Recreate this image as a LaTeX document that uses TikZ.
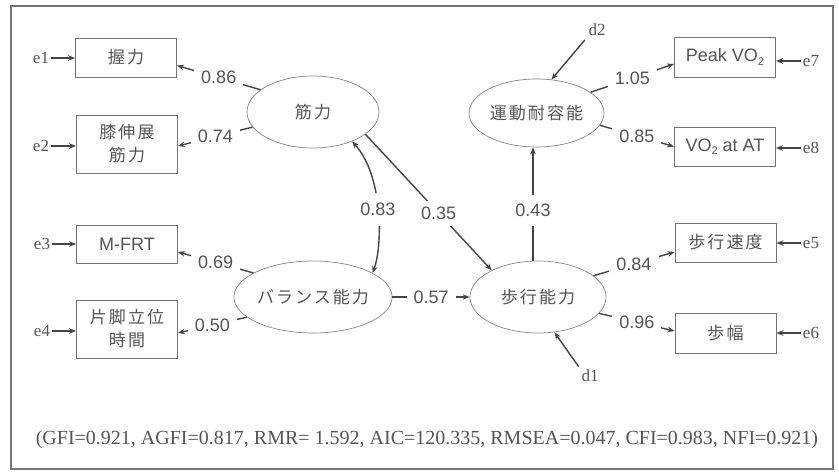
\documentclass[tikz,border=0pt]{standalone}
\usepackage{fontspec}
\setmainfont{Liberation Serif}
\setsansfont{Liberation Sans}
\newfontfamily\jp[LetterSpace=12]{Noto Sans CJK JP}
\usetikzlibrary{arrows.meta,shapes.geometric,calc}
\definecolor{ink}{HTML}{454545}
\definecolor{txt}{HTML}{555555}
\newcommand{\subtwo}{\raisebox{-0.35ex}{\fontsize{11}{11}\selectfont 2}}
\begin{document}
\begin{tikzpicture}[x=1pt,y=-1pt,
  obs/.style={draw=ink!75, line width=0.9pt, minimum width=101pt, text=txt,
    font=\jp\fontsize{17}{23}\selectfont, align=center, inner sep=0pt},
  obsl/.style={obs, font=\sffamily\fontsize{18}{22}\selectfont},
  lat/.style={ellipse, draw=ink!65, line width=0.7pt, minimum width=132pt,
    minimum height=72pt, inner sep=0pt, text=txt, font=\jp\fontsize{17}{21}\selectfont},
  err/.style={font=\rmfamily\fontsize{17}{17}\selectfont, text=txt, inner sep=1.5pt},
  coef/.style={font=\sffamily\fontsize{18}{18}\selectfont, text=txt, fill=white,
    inner xsep=7pt, inner ysep=3pt},
  arr/.style={draw=ink, line width=1.4pt, -{Stealth[length=7pt,width=5.5pt]}},
  darr/.style={draw=ink, line width=1.4pt, {Stealth[length=7pt,width=5.5pt]}-{Stealth[length=7pt,width=5.5pt]}},
  frame/.style={draw=ink!75, line width=1.5pt}
]
\useasboundingbox (0,0) rectangle (839,474);
\draw[frame] (11,6) rectangle (833,469);

% observed variables, left
\node[obs, minimum height=39pt] (b1) at (126,57.5) {握力};
\node[obs, minimum height=58pt] (b2) at (127,144) {膝伸展\\筋力};
\node[obsl, minimum height=38pt] (b3) at (127,244) {M-FRT};
\node[obs, minimum height=58pt] (b4) at (127,329) {片脚立位\\時間};
% observed variables, right
\node[obsl, minimum height=40pt] (b7) at (725,57) {Peak VO\subtwo};
\node[obsl, minimum height=39pt] (b8) at (725,146.5) {VO\subtwo\ at AT};
\node[obs, minimum height=39pt] (b5) at (725.5,242.5) {歩行速度};
\node[obs, minimum height=40pt] (b6) at (725.5,333) {歩幅};

% latent variables
\node[lat] (mk) at (313,112) {筋力};
\node[lat] (bl) at (313,297) {バランス能力};
\node[lat, minimum width=135pt, minimum height=68pt] (ue) at (536.5,113) {運動耐容能};
\node[lat, minimum width=136pt] (wk) at (538,297) {歩行能力};

% error terms
\node[err] (e1) at (41,58) {e1};
\node[err] (e2) at (41,146) {e2};
\node[err] (e3) at (42,244) {e3};
\node[err] (e4) at (42,331) {e4};
\node[err] (e7) at (811,61) {e7};
\node[err] (e8) at (811,148) {e8};
\node[err] (e5) at (811,243) {e5};
\node[err] (e6) at (811,333) {e6};
\node[err] (d2) at (597,30) {d2};
\node[err] (d1) at (590,376) {d1};

\draw[arr] (e1.east) -- (e1.east -| b1.west);
\draw[arr] (e2.east) -- (e2.east -| b2.west);
\draw[arr] (e3.east) -- (e3.east -| b3.west);
\draw[arr] (e4.east) -- (e4.east -| b4.west);
\draw[arr] (e7.west) -- (e7.west -| b7.east);
\draw[arr] (e8.west) -- (e8.west -| b8.east);
\draw[arr] (e5.west) -- (e5.west -| b5.east);
\draw[arr] (e6.west) -- (e6.west -| b6.east);

% loadings
\draw[arr] (mk.157) -- ($(b1.east)+(0,8)$) node[coef, midway] {0.86};
\draw[arr] (mk.194) -- ($(b2.east)+(0,2)$) node[coef, midway] {0.74};
\draw[arr] (bl.158) -- ($(b3.east)+(0,8)$) node[coef, midway] {0.69};
\draw[arr] (bl.197) -- ($(b4.east)+(0,4)$) node[coef, midway] {0.50};
\draw[arr] (ue.21) -- ($(b7.west)+(0,7)$) node[coef, midway] {1.05};
\draw[arr] (ue.349) -- ($(b8.west)+(0,0)$) node[coef, midway] {0.85};
\draw[arr] (wk.21) -- ($(b5.west)+(0,9.5)$) node[coef, midway] {0.84};
\draw[arr] (wk.345) -- ($(b6.west)+(0,-2)$) node[coef, midway] {0.96};

% structural paths
\draw[darr] (mk.323) .. controls (383,175) and (383,245) .. (bl.22)
  node[coef, pos=0.5, inner xsep=4pt, inner ysep=10pt] {0.83};
\draw[arr] (mk.337) -- (wk.150) node[coef, pos=0.58, inner xsep=3pt, inner ysep=6pt] {0.35};
\draw[arr] (bl) -- (wk) node[coef, pos=0.5] {0.57};
\draw[arr] ($(wk.north)+(-5,0)$) -- ($(ue.south)+(-3.5,0)$)
  node[coef, pos=0.44, inner ysep=9pt] {0.43};
\draw[arr, shorten <=3pt] (d2.south west) -- (ue.66);
\draw[arr, shorten <=2pt] (d1.north west) -- (wk.295);

% fit indices
\node[font=\rmfamily\fontsize{20}{20}\selectfont, text=txt, inner sep=0pt] (fit) at (427,440)
  {(GFI=0.921, AGFI=0.817, RMR= 1.592, AIC=120.335, RMSEA=0.047, CFI=0.983, NFI=0.921)};
\end{tikzpicture}
\end{document}
